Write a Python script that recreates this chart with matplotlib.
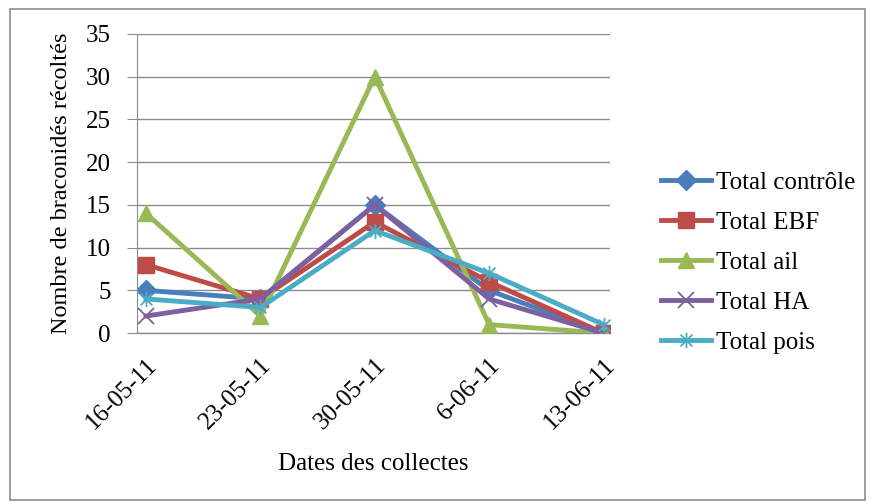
import matplotlib.pyplot as plt
from matplotlib.path import Path
from matplotlib.patches import Rectangle

plt.rcParams['font.family'] = ['Liberation Serif', 'DejaVu Serif']

dates = ["16-05-11", "23-05-11", "30-05-11", "6-06-11", "13-06-11"]
controle = [5, 4, 15, 5, 0]
ebf = [8, 4, 13, 6, 0]
ail = [14, 2, 30, 1, 0]
ha = [2, 4, 15, 4, 0]
pois = [4, 3, 12, 7, 1]

# asterisk marker: an x crossed by a vertical stroke
star = Path([(-1, -1), (1, 1), (-1, 1), (1, -1), (0, -1.3), (0, 1.3)],
            [Path.MOVETO, Path.LINETO, Path.MOVETO, Path.LINETO, Path.MOVETO, Path.LINETO])

series = [
    ("Total contrôle", controle, '#4A7EBB', 'D', 10),
    ("Total EBF", ebf, '#BE4B48', 's', 11),
    ("Total ail", ail, '#98B954', '^', 12),
    ("Total HA", ha, '#7D60A0', 'x', 11),
    ("Total pois", pois, '#4BACC6', star, 11),
]

fig = plt.figure(figsize=(8.72, 5.04), dpi=100)
fig.patches.append(Rectangle((0.011, 0.008), 0.981, 0.975, transform=fig.transFigure,
                             fill=False, edgecolor='#8c8c8c', linewidth=1.2))
ax = fig.add_axes([0.157, 0.339, 0.543, 0.594])

x = list(range(len(dates)))
for label, vals, color, marker, ms in series:
    thin = marker == 'x' or marker is star
    ax.plot(x, vals, color=color, linewidth=3.5, marker=marker, markersize=ms,
            markeredgewidth=1.3 if thin else 1.0, markeredgecolor=color, label=label)

ax.set_xlim(-0.08, 4.06)
ax.set_ylim(0, 35)
ax.set_yticks(range(0, 36, 5))
ax.set_xticks(x)
ax.set_xticklabels(dates, rotation=45, ha='right', rotation_mode='anchor', fontsize=18)
ax.tick_params(axis='y', labelsize=18, length=7, color='#8c8c8c', pad=12)
ax.tick_params(axis='x', length=0, pad=15)
ax.grid(axis='y', color='#8c8c8c', linewidth=1)
ax.axhline(0, color='#8c8c8c', linewidth=1, clip_on=False, zorder=0.5)
ax.set_axisbelow(True)
for s in ('top', 'right', 'bottom'):
    ax.spines[s].set_visible(False)
ax.spines['left'].set_color('#8c8c8c')

ax.set_xlabel("Dates des collectes", fontsize=18, labelpad=14)
ax.set_ylabel("Nombre de braconidés récoltés", fontsize=17.5, labelpad=10)

ax.legend(loc='center left', bbox_to_anchor=(1.085, 0.235), frameon=False, fontsize=18,
          handlelength=2.0, labelspacing=0.7, handletextpad=0.2, borderaxespad=0)

fig.savefig("out.png", dpi=100)
